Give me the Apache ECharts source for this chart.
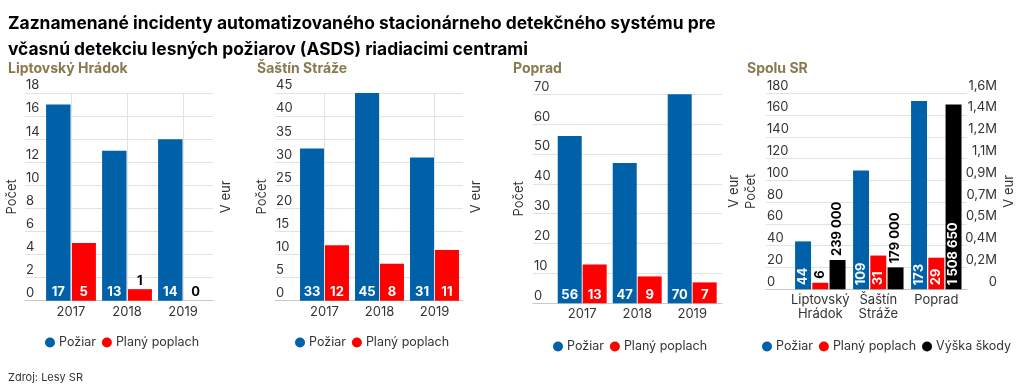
<!DOCTYPE html>
<html><head><meta charset="utf-8">
<script src="https://cdn.jsdelivr.net/npm/echarts@6/dist/echarts.min.js"></script>
<style>html,body{margin:0;padding:0;background:#fff}#c{width:1024px;height:392px}</style>
</head><body><div id="c"></div>
<script>
// ---- data ----
const years = ['2017', '2018', '2019'];
const lhFire = [17, 13, 14];
const lhFalse = [5, 1, 0];
const ssFire = [33, 45, 31];
const ssFalse = [12, 8, 11];
const ppFire = [56, 47, 70];
const ppFalse = [13, 9, 7];
const centers = ['Liptovský\nHrádok', 'Šaštín\nStráže', 'Poprad'];
const totFire = [44, 109, 173];
const totFalse = [6, 31, 29];
const totDamage = [239000, 179000, 1508650];
const rightTicks = ['0', '0,2M', '0,4M', '0,5M', '0,7M', '0,9M', '1,1M', '1,2M', '1,4M', '1,6M'];
const panelTitles = ['Liptovský Hrádok', 'Šaštín Stráže', 'Poprad', 'Spolu SR'];
const seriesNames = ['Požiar', 'Planý poplach', 'Výška škody'];

const FONT = 'Inter';
const BLUE = '#0061a9', RED = '#ff0000', BLACK = '#000000';
const GRID = '#e2e2e2', TXT = '#333333', GOLD = '#8a7850';

const fmt = v => String(v).replace(/\B(?=(\d{3})+(?!\d))/g, ' ');

const option = {
  animation: false,
  textStyle: { fontFamily: FONT },
  title: [
    { text: 'Zaznamenané incidenty automatizovaného stacionárneho detekčného systému pre\nvčasnú detekciu lesných požiarov (ASDS) riadiacimi centrami',
      left: 3, top: 6, textStyle: { fontFamily: FONT, fontWeight: 'bold', fontSize: 17.4, lineHeight: 26, color: '#000' } },
    { text: 'Zdroj: Lesy SR', left: 3, top: 367, textStyle: { fontFamily: FONT, fontWeight: 'normal', fontSize: 11, color: TXT } }
  ],
  grid: [], xAxis: [], yAxis: [], series: [], legend: []
};

// panel layout
const panels = [
  { ax: [25, 213], bar: [43, 211], top: 93, bottom: 300.7, max: 18, step: 2, cats: years, fire: lhFire, fals: lhFalse, vlines: true, nameL: 6, vEurR: 7, legendLeft: 40, legendTop: 331, titleX: 8 },
  { ax: [275, 463], bar: [297, 462], top: 93, bottom: 300.7, max: 45, step: 5, cats: years, fire: ssFire, fals: ssFalse, vlines: true, nameL: 6, vEurR: 7, legendLeft: 290, legendTop: 331, titleX: 257 },
  { ax: [533, 722], bar: [554.7, 719.7], top: 94.3, bottom: 303.3, max: 70, step: 10, cats: years, fire: ppFire, fals: ppFalse, vlines: false, nameL: 7, vEurR: null, legendLeft: 548, legendTop: 335, titleX: 513 },
  { ax: [766, 967], bar: [791.3, 965.3], top: 93.3, bottom: 289.3, max: 180, step: 20, cats: centers, fire: totFire, fals: totFalse, dmg: totDamage, dmgMax: 1600000, vlines: false, nameL: 8, vEurR: 36, legendLeft: 757, legendTop: 335, titleX: 747 }
];

function labelFor(val, max, plotH, rotated) {
  const h = val / max * plotH;
  const text = fmt(val);
  const need = rotated ? text.length * 8 + 6 : 18;
  const base = { show: true, formatter: p => fmt(p.value), fontFamily: FONT, fontWeight: 'bold', fontSize: 13 };
  if (rotated) { base.rotate = 90; base.align = 'left'; base.verticalAlign = 'middle'; }
  if (h >= need) return Object.assign(base, { position: 'insideBottom', distance: rotated ? 4 : 2, color: '#fff' });
  return Object.assign(base, { position: 'top', distance: rotated ? 4 : 2, color: '#000' });
}

panels.forEach((p, i) => {
  const h = p.bottom - p.top;
  // subtitle
  option.title.push({ text: panelTitles[i], left: p.titleX - 5, top: 57, textStyle: { fontFamily: FONT, fontWeight: 'bold', fontSize: 14, color: GOLD } });
  // axis grid (gridlines + y labels)
  const gA = option.grid.length;
  option.grid.push({ left: p.ax[0], top: p.top, width: p.ax[1] - p.ax[0], height: h });
  option.xAxis.push({ type: 'value', gridIndex: gA, min: 0, max: 1, axisLabel: { show: false }, axisTick: { show: false }, splitLine: { show: false },
    axisLine: { show: true, lineStyle: { color: '#c9c9c9', width: 1 } } });
  option.yAxis.push({ type: 'value', gridIndex: gA, min: 0, max: p.max, interval: p.step, position: 'left',
    axisLine: { show: false }, axisTick: { show: false },
    axisLabel: { inside: true, margin: 1, verticalAlign: 'bottom', padding: [0, 0, 1, 0], color: TXT, fontSize: 13, fontFamily: FONT },
    splitLine: { lineStyle: { color: GRID, width: 1 } },
    name: 'Počet', nameLocation: 'middle', nameRotate: 90, nameGap: p.nameL, nameTextStyle: { color: TXT, fontSize: 13, fontFamily: FONT } });
  if (p.dmg) {
    option.yAxis.push({ type: 'value', gridIndex: gA, min: 0, max: p.max, interval: p.step, position: 'right',
      axisLine: { show: false }, axisTick: { show: false }, splitLine: { show: false },
      axisLabel: { margin: 30, align: 'right', verticalAlign: 'bottom', padding: [0, 0, 1, 0], color: TXT, fontSize: 13, fontFamily: FONT,
        formatter: (v, idx) => rightTicks[idx] },
      name: 'V eur', nameLocation: 'middle', nameRotate: 90, nameGap: p.vEurR, nameTextStyle: { color: TXT, fontSize: 13, fontFamily: FONT } });
  } else if (p.vEurR !== null) {
    option.yAxis.push({ type: 'value', gridIndex: gA, min: 0, max: p.max, position: 'right',
      axisLine: { show: false }, axisTick: { show: false }, splitLine: { show: false }, axisLabel: { show: false },
      name: 'V eur', nameLocation: 'middle', nameRotate: 90, nameGap: p.vEurR, nameTextStyle: { color: TXT, fontSize: 13, fontFamily: FONT } });
  }
  // bar grid
  const gB = option.grid.length;
  option.grid.push({ left: p.bar[0], top: p.top, width: p.bar[1] - p.bar[0], height: h });
  const xB = option.xAxis.length;
  option.xAxis.push({ type: 'category', gridIndex: gB, data: p.cats,
    axisLine: { show: false }, axisTick: { show: false }, splitLine: { show: false },
    axisLabel: { interval: 0, margin: 4, color: TXT, fontSize: 13, fontFamily: FONT, lineHeight: 14 } });
  const yB = option.yAxis.length;
  option.yAxis.push({ type: 'value', gridIndex: gB, min: 0, max: p.max, show: true,
    axisLine: { show: false }, axisTick: { show: false }, splitLine: { show: false }, axisLabel: { show: false },
    name: p.dmg ? 'V eur' : '', nameLocation: 'middle', nameRotate: 90, nameGap: 51, nameTextStyle: { color: TXT, fontSize: 13, fontFamily: FONT } });
  let yB2 = null;
  if (p.dmg) {
    yB2 = option.yAxis.length;
    option.yAxis.push({ type: 'value', gridIndex: gB, min: 0, max: p.dmgMax, show: false });
  }
  const rot = !!p.dmg;
  const common = { type: 'bar', xAxisIndex: xB, yAxisIndex: yB, z: 3,
    barCategoryGap: rot ? '13%' : '11%', barGap: rot ? '8%' : '4%' };
  option.series.push(Object.assign({}, common, { name: seriesNames[0], itemStyle: { color: BLUE },
    data: p.fire.map(v => ({ value: v, label: labelFor(v, p.max, h, rot) })) }));
  option.series.push(Object.assign({}, common, { name: seriesNames[1], itemStyle: { color: RED },
    data: p.fals.map(v => ({ value: v, label: labelFor(v, p.max, h, rot) })) }));
  if (p.dmg) {
    option.series.push(Object.assign({}, common, { name: seriesNames[2], yAxisIndex: yB2, itemStyle: { color: BLACK },
      data: p.dmg.map(v => ({ value: v, label: labelFor(v, p.dmgMax, h, rot) })) }));
  }
  if (p.vlines) {
    option.series.push({ type: 'line', xAxisIndex: xB, yAxisIndex: yB, z: 1, data: [], silent: true,
      markLine: { silent: true, symbol: ['none', 'none'], label: { show: false },
        lineStyle: { color: GRID, type: 'solid', width: 1 },
        data: p.cats.map(c => ({ xAxis: c })) } });
  }
  option.legend.push({ left: p.legendLeft, top: p.legendTop, icon: 'circle', itemWidth: 10, itemHeight: 10, itemGap: 6,
    selectedMode: false, data: p.dmg ? seriesNames : seriesNames.slice(0, 2),
    textStyle: { color: TXT, fontSize: 12.5, fontFamily: FONT, padding: [0, 0, 0, -1] } });
});

const chart = echarts.init(document.getElementById('c'), null, { renderer: 'canvas' });
chart.setOption(option);
</script>
</body></html>
